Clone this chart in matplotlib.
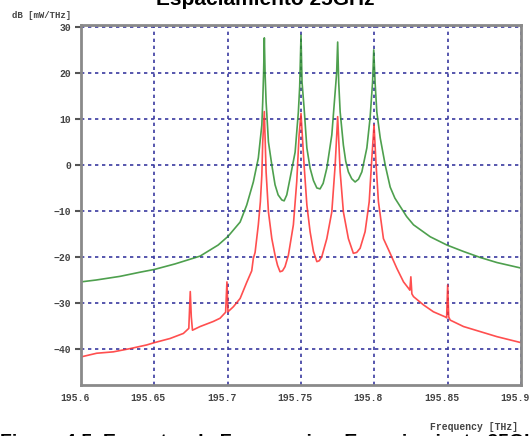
import matplotlib.pyplot as plt
from matplotlib.transforms import ScaledTranslation

# frequency axis in THz, power in dB [mW/THz]
green_freq = [195.6, 195.6102, 195.6266, 195.6402, 195.65, 195.6641, 195.6812,
              195.6935, 195.7003, 195.7085, 195.713, 195.7175, 195.7209, 195.7233,
              195.7239, 195.7245, 195.725, 195.7255, 195.7262, 195.7278, 195.7301,
              195.7323, 195.7344, 195.7369, 195.7385, 195.7403, 195.7426, 195.746,
              195.7482, 195.7491, 195.75, 195.7507, 195.7521, 195.754, 195.7562,
              195.7585, 195.7608, 195.763, 195.7651, 195.7676, 195.771, 195.7733,
              195.7743, 195.775, 195.7757, 195.7767, 195.7789, 195.7805, 195.7823,
              195.7846, 195.7869, 195.7892, 195.7915, 195.7949, 195.7971, 195.7988,
              195.7996, 195.8005, 195.8017, 195.804, 195.8074, 195.8108, 195.814,
              195.8176, 195.822, 195.8267, 195.8381, 195.8495, 195.8608, 195.8722,
              195.8836, 195.9]
green_db = [-25.4, -25.0, -24.2, -23.3, -22.7, -21.5, -19.8,
            -17.4, -15.5, -12.4, -8.7, -3.7, 1.5, 8.7,
            13.7, 20.0, 27.6, 20.0, 13.7, 5.0, 0.0,
            -4.3, -6.5, -7.6, -7.8, -6.5, -2.8, 2.8,
            11.5, 17.0, 28.2, 18.0, 12.4, 3.7, -0.7,
            -3.4, -5.0, -5.2, -4.0, -0.7, 6.5, 15.9,
            20.0, 26.7, 18.0, 11.5, 4.3, 0.8, -1.5,
            -3.0, -3.7, -3.1, -1.5, 3.7, 10.2, 18.0,
            25.0, 18.0, 11.5, 5.9, 0.0, -4.8, -7.2,
            -9.0, -11.2, -13.0, -15.6, -17.4, -18.8, -20.1,
            -21.2, -22.4]

red_freq = [195.6, 195.6107, 195.622, 195.6334, 195.6448, 195.65, 195.6607,
            195.6698, 195.6735, 195.6745, 195.6752, 195.676, 195.6812, 195.6902,
            195.6948, 195.6986, 195.6995, 195.7002, 195.7039, 195.7085, 195.713,
            195.7164, 195.7175, 195.7187, 195.7209, 195.7223, 195.7233, 195.7239,
            195.725, 195.7262, 195.7278, 195.7301, 195.7323, 195.734, 195.7357,
            195.7374, 195.7391, 195.7414, 195.7448, 195.7471, 195.7487, 195.75,
            195.7521, 195.754, 195.7562, 195.7585, 195.7608, 195.7625, 195.7642,
            195.7676, 195.771, 195.7733, 195.775, 195.7767, 195.7789, 195.7823,
            195.7857, 195.788, 195.7903, 195.7937, 195.7965, 195.7983, 195.7998,
            195.8012, 195.8028, 195.8062, 195.8108, 195.8154, 195.8199, 195.8233,
            195.8242, 195.8249, 195.8256, 195.8267, 195.8335, 195.8403, 195.8483,
            195.8493, 195.85, 195.8507, 195.8517, 195.8608, 195.8722, 195.8836,
            195.9]
red_db = [-41.7, -40.9, -40.6, -39.9, -39.1, -38.6, -37.7,
          -36.6, -35.5, -27.5, -33.0, -35.9, -35.1, -34.0,
          -33.3, -32.0, -25.4, -31.9, -30.8, -29.0, -25.5,
          -23.0, -20.3, -19.0, -13.0, -8.0, -2.2, 5.0,
          11.6, -1.5, -10.2, -16.0, -19.6, -21.8, -23.2,
          -23.0, -22.1, -19.6, -13.0, -3.6, 6.5, 11.2,
          0.0, -8.7, -14.5, -18.8, -21.0, -20.8, -19.9,
          -16.0, -10.2, 0.0, 10.5, -1.5, -10.2, -16.0,
          -19.2, -19.0, -18.1, -14.5, -8.0, 1.5, 8.7,
          0.0, -8.0, -16.0, -19.2, -22.5, -25.4, -26.8,
          -27.2, -24.3, -28.0, -28.6, -30.4, -31.9, -33.0,
          -33.2, -26.1, -33.0, -33.7, -35.1, -36.2, -37.3,
          -38.6]

x_ticks = [195.6, 195.65, 195.7, 195.75, 195.8, 195.85, 195.9]
x_labels = ["195.6", "195.65", "195.7", "195.75", "195.8", "195.85", "195.9"]
y_ticks = [-40, -30, -20, -10, 0, 10, 20, 30]

mono = "Liberation Mono"

fig = plt.figure(figsize=(5.31, 4.36), dpi=100)
ax = fig.add_axes([81 / 531, 1 - 385 / 436, 440 / 531, 360 / 436])

ax.plot(green_freq, green_db, color="#2f8f2f", lw=1.2, alpha=0.85)
ax.plot(red_freq, red_db, color="#ff3030", lw=1.2, alpha=0.85)

ax.set_xlim(195.6, 195.9)
ax.set_ylim(-47.8, 30.4)
ax.set_xticks(x_ticks)
ax.set_xticklabels(x_labels)
ax.set_yticks(y_ticks)

ax.grid(True, color="#3a3aa0", linestyle=(0, (2, 2.2)), linewidth=1.2)
for s in ax.spines.values():
    s.set_color("#8a8a8a")
    s.set_linewidth(2)

ax.tick_params(axis="y", length=4, width=1.5, color="#555555", pad=3)
ax.tick_params(axis="x", length=0, pad=6)
shift = ScaledTranslation(-6 / 100, 0, fig.dpi_scale_trans)
for lab in ax.get_xticklabels():
    lab.set_transform(lab.get_transform() + shift)
for lab in ax.get_xticklabels() + ax.get_yticklabels():
    lab.set_family(mono)
    lab.set_fontsize(7)
    lab.set_fontweight("bold")
    lab.set_color("#444444")

fig.text(12 / 531, 1 - 15 / 436, "dB [mW/THz]", family=mono, fontsize=6.5,
         fontweight="bold", color="#444444", va="center", ha="left")
fig.text(518 / 531, 1 - 427 / 436, "Frequency [THz]", family=mono, fontsize=7,
         fontweight="bold", color="#444444", va="center", ha="right")

# title and caption are cut by the image edges in the original
fig.text(0.5, 1 - 5 / 436, "Espaciamiento 25GHz", family="Liberation Sans",
         fontsize=15, fontweight="bold", ha="center", va="baseline")
fig.text(0, 1 - 447 / 436, "Figura 4.5  Espectro de Frecuencias  Espaciamiento 25GHz",
         family="Liberation Sans", fontsize=14, fontweight="bold", ha="left", va="baseline")

fig.savefig("out.png", dpi=100)
